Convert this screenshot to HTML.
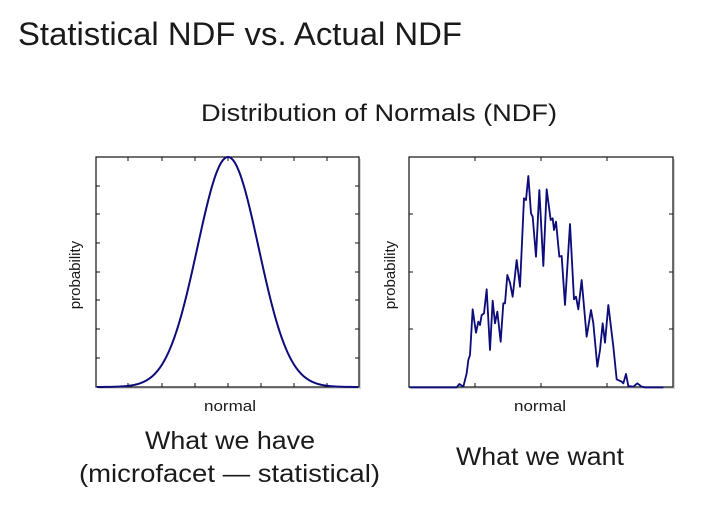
<!DOCTYPE html>
<html><head><meta charset="utf-8"><style>
html,body{margin:0;padding:0;background:#fff;}
svg{display:block;}
text{font-family:"Liberation Sans",sans-serif;fill:#1a1a1a;}
</style></head><body>
<svg width="714" height="530" viewBox="0 0 714 530" xmlns="http://www.w3.org/2000/svg">
<text x="18" y="45" font-size="32" textLength="444" lengthAdjust="spacingAndGlyphs">Statistical NDF vs. Actual NDF</text>
<text x="201" y="121" font-size="24" textLength="356" lengthAdjust="spacingAndGlyphs">Distribution of Normals (NDF)</text>

<!-- left plot -->
<rect x="98" y="159" width="263" height="230" fill="#bbb" opacity="0.6"/>
<rect x="96" y="157" width="263" height="230" fill="#fff" stroke="#111" stroke-width="1.2"/>
<g stroke="#111" stroke-width="1">
<path d="M128 157v4M162 157v4M195 157v4M228 157v4M261 157v4M294 157v4M327 157v4M128 387v-4M162 387v-4M195 387v-4M228 387v-4M261 387v-4M294 387v-4M327 387v-4"/>
<path d="M96 186h4M96 214h4M96 243h4M96 272h4M96 300h4M96 329h4M96 358h4M359 186h-4M359 214h-4M359 243h-4M359 272h-4M359 300h-4M359 329h-4M359 358h-4"/>
</g>
<path id="g1" fill="none" stroke="#0c0c7a" stroke-width="2"/>
<text x="204" y="411" font-size="15" textLength="52" lengthAdjust="spacingAndGlyphs">normal</text>
<text transform="translate(80,275) rotate(-90)" font-size="15" text-anchor="middle">probability</text>

<!-- right plot -->
<rect x="411" y="159" width="264" height="230" fill="#bbb" opacity="0.6"/>
<rect x="409" y="157" width="264" height="230" fill="#fff" stroke="#111" stroke-width="1.2"/>
<g stroke="#111" stroke-width="1">
<path d="M475 157v4M541 157v4M607 157v4M475 387v-4M541 387v-4M607 387v-4"/>
<path d="M409 214h4M409 272h4M409 329h4M673 214h-4M673 272h-4M673 329h-4"/>
</g>
<g transform="translate(400,150) scale(0.33333)">
<polyline fill="none" stroke="#0c0c7a" stroke-width="5.5" stroke-linejoin="round" points="28,712 170,712 178,702 190,710 200,670 205,630 210,615 218,478 228,548 235,515 240,525 245,495 252,490 260,418 270,600 278,452 285,520 292,485 302,575 310,460 315,460 322,375 330,398 338,440 350,330 360,410 372,145 378,150 385,78 393,190 398,200 408,320 418,120 430,348 440,118 452,210 458,205 462,240 468,215 478,320 485,318 495,465 510,222 522,448 528,440 535,478 545,390 560,560 573,480 580,520 592,650 600,600 608,520 615,578 625,465 640,590 650,688 665,695 670,700 678,672 685,708 700,710 712,700 725,710 735,712 790,712"/>
</g>
<text x="514" y="411" font-size="15" textLength="52" lengthAdjust="spacingAndGlyphs">normal</text>
<text transform="translate(395,275) rotate(-90)" font-size="15" text-anchor="middle">probability</text>

<text x="145" y="449" font-size="25" textLength="170" lengthAdjust="spacingAndGlyphs">What we have</text>
<text x="79" y="482" font-size="25" textLength="301" lengthAdjust="spacingAndGlyphs">(microfacet — statistical)</text>
<text x="456" y="465" font-size="25" textLength="168" lengthAdjust="spacingAndGlyphs">What we want</text>
</svg>
<script>
var p=[];for(var x=97;x<=358;x+=1){var y=387-230*Math.exp(-Math.pow((x-228)/30.6,2)/2);p.push(x+","+y.toFixed(2));}
document.getElementById("g1").setAttribute("d","M"+p.join(" L"));
</script>
</body></html>
